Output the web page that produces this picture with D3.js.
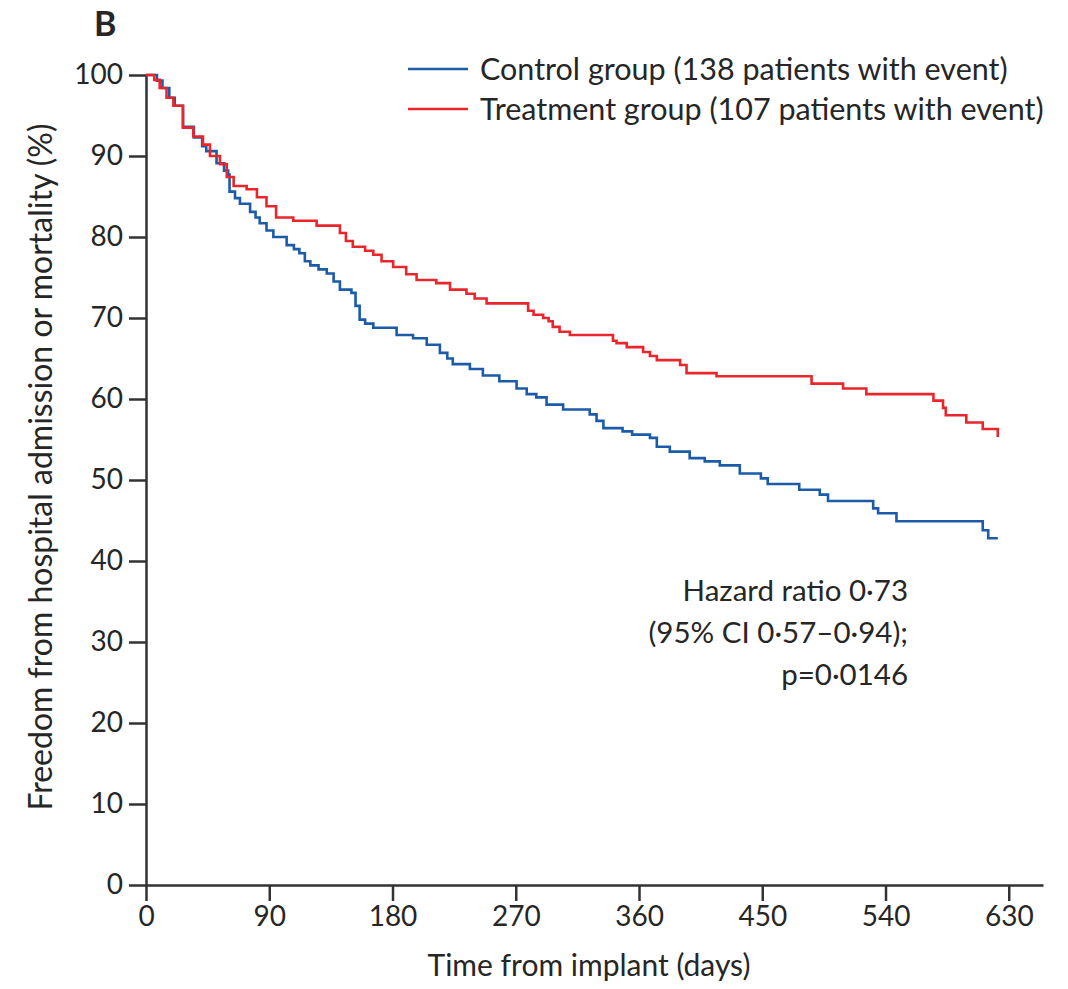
<!DOCTYPE html>
<html>
<head>
<meta charset="utf-8">
<script src="https://cdn.jsdelivr.net/npm/d3@7"></script>
<style>
  body { margin: 0; background: #fff; }
  text { font-family: Lato, "Open Sans", sans-serif; fill: #262626; }
</style>
</head>
<body>
<div id="container"></div>
<script>
/* CONSTANTS AND GLOBALS */
const width = 1068;
const height = 989;

// x ticks (days) and y ticks (%)
const xTicks = [0, 90, 180, 270, 360, 450, 540, 630];
const yTicks = [0, 10, 20, 30, 40, 50, 60, 70, 80, 90, 100];

// Control group: step points (day, % free of event)
const controlDays = [0, 8, 12, 17, 21, 27, 35, 41, 44, 51.5, 57, 60, 61, 65, 68.6, 76, 80, 83, 88, 93,
  102.7, 108, 112, 116, 120, 126, 132, 137, 141.6, 150, 153, 156, 160, 166, 183, 195, 205, 214.6, 220,
  224, 236.5, 246, 258, 270.6, 278, 285, 292.5, 304.6, 324, 329, 334, 348, 355, 368, 373, 382.5, 397,
  408, 419, 433.6, 449, 454, 477, 492, 498, 531, 534.6, 548, 611, 615, 622];
const controlValues = [100, 99.3, 98.4, 97.2, 96.2, 93.6, 92.3, 91.2, 90.6, 89.1, 88.2, 87.7, 85.6, 84.8,
  84.1, 83.1, 82.4, 81.7, 80.8, 80.0, 79.0, 78.5, 78.0, 77.0, 76.5, 76.0, 75.5, 74.5, 73.5, 73.1, 71.5,
  69.8, 69.3, 68.8, 67.9, 67.5, 66.7, 65.7, 65.0, 64.3, 63.7, 62.9, 62.2, 61.3, 60.6, 60.2, 59.3, 58.7,
  58.1, 57.3, 56.4, 56.0, 55.6, 55.2, 54.1, 53.5, 52.7, 52.3, 51.8, 50.8, 50.2, 49.5, 48.8, 48.2, 47.4,
  46.5, 45.9, 44.9, 43.8, 42.8, 42.8];

// Treatment group
const treatmentDays = [0, 6, 10, 15, 20, 27, 34.5, 41.6, 46.7, 54, 59, 64, 73.5, 81, 88, 95, 107.5, 124.6,
  141.6, 146, 151, 160, 166, 172, 180.5, 190, 197.6, 212, 222, 234, 240, 248.7, 279, 283, 290, 294, 297,
  302, 309.5, 341, 343.6, 351, 363, 368, 373, 390, 394.7, 416.6, 486, 509, 526, 575, 582, 584, 599, 611, 622];
const treatmentValues = [100, 99.4, 98.4, 97.2, 96.2, 93.5, 92.4, 91.4, 90.0, 89.0, 87.4, 86.3, 85.9, 84.9,
  83.8, 82.4, 82.0, 81.4, 80.5, 79.5, 78.8, 78.3, 77.8, 77.0, 76.3, 75.4, 74.7, 74.3, 73.5, 73.0, 72.4,
  71.8, 70.9, 70.4, 70.0, 69.6, 68.9, 68.3, 67.9, 67.2, 66.9, 66.4, 65.8, 65.3, 64.8, 64.2, 63.2, 62.8,
  61.9, 61.3, 60.6, 59.8, 58.9, 58.0, 57.1, 56.3, 55.3];

const legendLabels = ["Control group (138 patients with event)", "Treatment group (107 patients with event)"];
const statLines = ["Hazard ratio 0·73", "(95% CI 0·57–0·94);", "p=0·0146"];

const colors = ["#1b5ba8", "#e8262b"];

/* SCALES */
const xScale = d3.scaleLinear()
  .domain([0, 655])
  .range([146, 1043]);

const yScale = d3.scaleLinear()
  .domain([0, 100])
  .range([885, 75]);

/* HTML ELEMENTS */
const svg = d3.select("#container")
  .append("svg")
  .attr("width", width)
  .attr("height", height);

// axes
const xAxis = svg.append("g")
  .attr("transform", `translate(0,${yScale(0)})`)
  .call(d3.axisBottom(xScale).tickValues(xTicks).tickSize(16).tickSizeOuter(0).tickPadding(5));

const yAxis = svg.append("g")
  .attr("transform", `translate(${xScale(0)},0)`)
  .call(d3.axisLeft(yScale).tickValues(yTicks).tickSize(17).tickSizeOuter(0).tickPadding(6));

[xAxis, yAxis].forEach(ax => {
  ax.select(".domain").attr("stroke", "#333").attr("stroke-width", 2.5);
  ax.selectAll(".tick line").attr("stroke", "#333").attr("stroke-width", 2.5);
  ax.selectAll(".tick text")
    .style("font-family", "Lato, 'Open Sans', sans-serif")
    .style("font-size", "28px")
    .attr("fill", "#262626");
});

// curves
const series = [
  controlDays.map((d, i) => ({ day: d, value: controlValues[i] })),
  treatmentDays.map((d, i) => ({ day: d, value: treatmentValues[i] }))
];

const line = d3.line()
  .x(d => xScale(d.day))
  .y(d => yScale(d.value))
  .curve(d3.curveStepAfter);

svg.selectAll(".km")
  .data(series)
  .join("path")
  .attr("class", "km")
  .attr("d", line)
  .attr("fill", "none")
  .attr("stroke", (d, i) => colors[i])
  .attr("stroke-width", 2.6);

// legend
const legend = svg.selectAll(".legend")
  .data(legendLabels)
  .join("g")
  .attr("class", "legend")
  .attr("transform", (d, i) => `translate(408,${69 + i * 40})`);

legend.append("line")
  .attr("x1", 0)
  .attr("x2", 60)
  .attr("stroke", (d, i) => colors[i])
  .attr("stroke-width", 2.6);

legend.append("text")
  .attr("x", 72)
  .attr("dy", "0.35em")
  .style("font-size", "30.5px")
  .text(d => d);

// hazard ratio text
svg.selectAll(".stat")
  .data(statLines)
  .join("text")
  .attr("class", "stat")
  .attr("x", 908)
  .attr("y", (d, i) => 601 + i * 42)
  .attr("text-anchor", "end")
  .style("font-size", "29.5px")
  .text(d => d);

// axis titles
svg.append("text")
  .attr("x", 589)
  .attr("y", 976)
  .attr("text-anchor", "middle")
  .style("font-size", "30px")
  .text("Time from implant (days)");

svg.append("text")
  .attr("transform", "translate(52,467) rotate(-90)")
  .attr("text-anchor", "middle")
  .style("font-size", "32px")
  .text("Freedom from hospital admission or mortality (%)");

// panel letter
svg.append("text")
  .attr("x", 94)
  .attr("y", 36)
  .style("font-size", "34px")
  .style("font-weight", "bold")
  .text("B");
</script>
</body>
</html>
